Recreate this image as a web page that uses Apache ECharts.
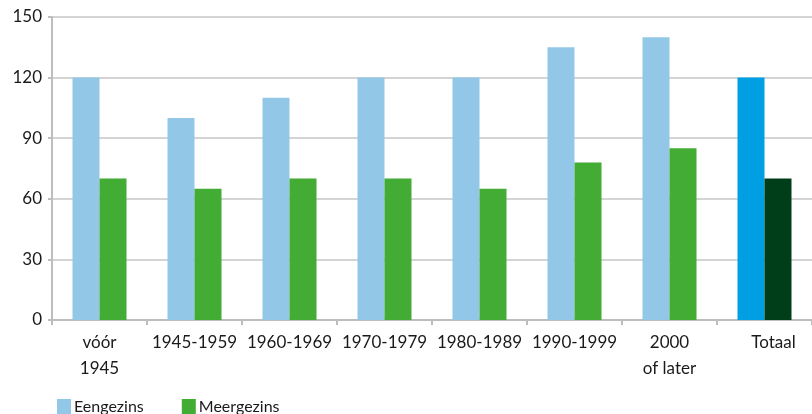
<!DOCTYPE html>
<html><head><meta charset="utf-8">
<script src="https://cdn.jsdelivr.net/npm/echarts@6/dist/echarts.min.js"></script>
<style>html,body{margin:0;padding:0;background:#fff}#c{width:812px;height:414px}</style>
</head><body><div id="c"></div>
<script>
var categories = ['vóór\n1945','1945-1959','1960-1969','1970-1979','1980-1989','1990-1999','2000\nof later','Totaal'];
var eengezins = [120,100,110,120,120,135,140,120];
var meergezins = [70,65,70,70,65,78,85,70];
var yTicks = [0,30,60,90,120,150];

var font = 'Lato';
var chart = echarts.init(document.getElementById('c'));
function mk(vals, base, last){
  return vals.map(function(v,i){
    return {value:v,itemStyle:{color:i===vals.length-1?last:base}};
  });
}
var catData = categories.map(function(c,i){
  return i===categories.length-1 ? {value:c,textStyle:{padding:[0,0,0,18]}} : c;
});
chart.setOption({
  animation:false,
  textStyle:{fontFamily:font},
  legend:{
    left:52, top:394, itemWidth:14, itemHeight:16, itemGap:38, icon:'rect',
    textStyle:{fontSize:16,color:'#1a1a1a',fontFamily:font,padding:[0,0,0,-2]},
    data:['Eengezins','Meergezins']
  },
  grid:{left:52,width:764,top:17,bottom:94,containLabel:false},
  xAxis:{
    type:'category',data:catData,
    axisLine:{lineStyle:{color:'#bdbdbd',width:2}},
    axisTick:{show:true,length:5,lineStyle:{color:'#bdbdbd',width:2}},
    axisLabel:{interval:0,fontSize:17,color:'#1a1a1a',fontFamily:font,margin:10,lineHeight:26}
  },
  yAxis:{
    type:'value',min:yTicks[0],max:yTicks[yTicks.length-1],interval:30,
    axisLine:{show:true,lineStyle:{color:'#bdbdbd',width:2}},
    axisTick:{show:true,length:4,lineStyle:{color:'#bdbdbd',width:2}},
    axisLabel:{fontSize:17,color:'#1a1a1a',fontFamily:font,margin:10},
    splitLine:{lineStyle:{color:'#d4d4d4',width:2}}
  },
  series:[
    {name:'Eengezins',type:'bar',data:mk(eengezins,'#92c7e8','#009fe3'),barWidth:27,barGap:'0%',itemStyle:{color:'#92c7e8'}},
    {name:'Meergezins',type:'bar',data:mk(meergezins,'#43ac34','#003e1a'),barWidth:27,barGap:'0%',itemStyle:{color:'#43ac34'}}
  ]
});
</script></body></html>
